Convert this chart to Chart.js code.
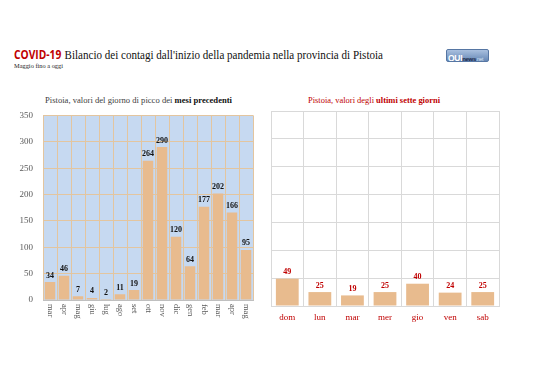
<!DOCTYPE html>
<html><head><meta charset="utf-8">
<script src="https://cdn.jsdelivr.net/npm/chart.js@4/dist/chart.umd.min.js"></script>
<style>
html,body{margin:0;padding:0;background:#fff;width:538px;height:380px;overflow:hidden;position:relative}
.t{position:absolute;white-space:nowrap;transform-origin:0 50%}
#c1{position:absolute;left:0;top:100px}
#c2{position:absolute;left:265px;top:100px}
</style></head><body>
<div class="t" id="title" style="left:14px;top:46px;line-height:16px"><span style="font-family:'Open Sans',sans-serif;font-weight:bold;color:#c00000;font-size:12.5px">COVID-19</span> <span id="tmain" style="font-family:'Liberation Serif',serif;font-size:13.5px;color:#111">Bilancio dei contagi dall'inizio della pandemia nella provincia di Pistoia</span></div>
<div class="t" id="sub" style="left:14px;top:62px;font-family:'Liberation Serif',serif;font-size:6.5px;line-height:8px;color:#222">Maggio fino a oggi</div>
<div class="t" id="lt" style="left:45px;top:95px;font-family:'Liberation Serif',serif;font-size:8.5px;line-height:10px;color:#404040">Pistoia, valori del giorno di picco dei <b style="color:#111">mesi precedenti</b></div>
<div class="t" id="rt" style="left:308px;top:95px;font-family:'Liberation Serif',serif;font-size:8.5px;line-height:10px;color:#c00000">Pistoia, valori degli <b>ultimi sette giorni</b></div>
<div style="position:absolute;left:446px;top:49px;width:43px;height:13px;border-radius:2px;background:linear-gradient(#a9c0df,#6688b6);border:1px solid #5676a3;box-sizing:border-box;font-family:'Liberation Sans',sans-serif;line-height:11px;white-space:nowrap;overflow:hidden;letter-spacing:-0.3px"><span style="color:#fff;font-weight:bold;font-size:8.5px;margin-left:1px">QUI</span><span style="color:#1c2a4a;font-weight:bold;font-size:6px">news</span><span style="color:#dde6f3;font-size:5px">.net</span></div>
<canvas id="c1" width="258" height="240"></canvas>
<canvas id="c2" width="240" height="230"></canvas>
<script>
// ---- data ----
const months = ['mar','apr','mag','giu','lug','ago','set','ott','nov','dic','gen','feb','mar','apr','mag'];
const peaks = [34,46,7,4,2,11,19,264,290,120,64,177,202,166,95];
const days = ['dom','lun','mar','mer','gio','ven','sab'];
const week = [49,25,19,25,40,24,25];
const yMax = 350, yStep = 50;

// fit text widths
function fit(id, w){const e=document.getElementById(id);const r=e.getBoundingClientRect().width;e.style.transform='scaleX('+(w/r)+')';}
fit('title', 369); fit('sub', 49); fit('lt', 187); fit('rt', 132);

const serif = "'Liberation Serif', serif";
const barColor = '#e8bb8e';

const valueLabels = {
  id:'valueLabels',
  afterDatasetsDraw(chart, args, opts){
    const ctx = chart.ctx; const meta = chart.getDatasetMeta(0);
    ctx.save();
    ctx.font = 'bold ' + opts.size + 'px ' + serif;
    ctx.fillStyle = opts.color; ctx.textAlign='center'; ctx.textBaseline='middle';
    meta.data.forEach((b,i)=>{ ctx.fillText(String(chart.data.datasets[0].data[i]), b.x, b.y - 6.5); });
    ctx.restore();
  }
};
const plotBg = {
  id:'plotBg',
  beforeDraw(chart, args, opts){
    if(!opts.color) return;
    const a = chart.chartArea, ctx = chart.ctx;
    ctx.save(); ctx.fillStyle = opts.color; ctx.fillRect(a.left, a.top, a.right-a.left, a.bottom-a.top); ctx.restore();
  }
};
const vertLabels = {
  id:'vertLabels',
  afterDraw(chart, args, opts){
    if(!opts.on) return;
    const sx = chart.scales.x, ctx = chart.ctx;
    ctx.save();
    ctx.font = '8.5px ' + serif; ctx.fillStyle = '#595959';
    ctx.textAlign='left'; ctx.textBaseline='middle';
    chart.data.labels.forEach((l,i)=>{
      const x = sx.getPixelForTick(i);
      ctx.save(); ctx.translate(x, sx.top + 4); ctx.rotate(Math.PI/2); ctx.fillText(l, 0, 0); ctx.restore();
    });
    ctx.restore();
  }
};

new Chart(document.getElementById('c1'), {
  type:'bar',
  data:{labels:months, datasets:[{data:peaks, backgroundColor:barColor, borderWidth:0, barPercentage:0.75, categoryPercentage:1}]},
  options:{
    responsive:false, animation:false, events:[],
    layout:{padding:{top:12,right:5,left:0,bottom:0}},
    plugins:{legend:{display:false}, tooltip:{enabled:false},
      valueLabels:{size:8,color:'#111'}, plotBg:{color:'#c6d9f1'}, vertLabels:{on:true}},
    scales:{
      x:{grid:{color:'#e3c59f', offset:true, drawTicks:false}, border:{color:'#bfbfbf'},
         ticks:{display:false},
         afterFit(s){s.height=40;}},
      y:{min:0,max:yMax, grid:{color:'#e3c59f', drawTicks:false}, border:{display:false},
         ticks:{stepSize:yStep, color:'#595959', font:{family:serif,size:9}, padding:10},
         afterFit(s){s.width=43;}}
    }
  },
  plugins:[valueLabels, plotBg, vertLabels]
});

new Chart(document.getElementById('c2'), {
  type:'bar',
  data:{labels:days, datasets:[{data:week, backgroundColor:barColor, borderWidth:0, barPercentage:0.7, categoryPercentage:1}]},
  options:{
    responsive:false, animation:false, events:[],
    layout:{padding:{top:11,right:6,left:0,bottom:0}},
    plugins:{legend:{display:false}, tooltip:{enabled:false},
      valueLabels:{size:8,color:'#c00000'}, plotBg:{}, vertLabels:{on:false}},
    scales:{
      x:{grid:{color:'#d9d9d9', offset:true, drawTicks:false}, border:{color:'#d9d9d9'},
         ticks:{color:'#c00000', font:{family:serif,size:9}, padding:6, maxRotation:0},
         afterFit(s){s.height=24;}},
      y:{min:0,max:yMax, grid:{color:'#d9d9d9', drawTicks:false}, border:{display:false},
         ticks:{display:false, stepSize:yStep},
         afterFit(s){s.width=6;}}
    }
  },
  plugins:[valueLabels, plotBg, vertLabels]
});
</script>
</body></html>
